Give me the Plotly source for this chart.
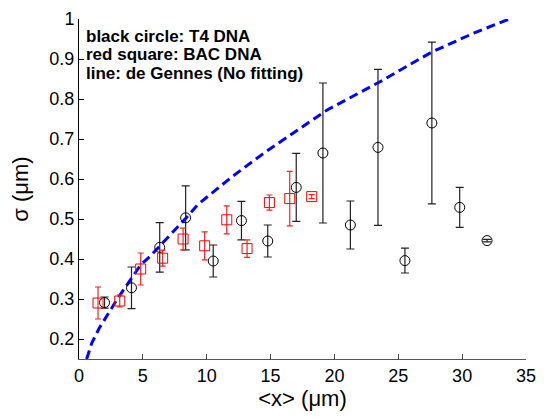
import plotly.graph_objects as go

# T4 DNA (black circles)
t4_x = [2.0, 4.11, 6.32, 8.35, 10.51, 12.72, 14.78, 17.01, 19.1, 21.25, 23.41, 25.52, 27.63, 29.81, 31.95]
t4_y = [0.291, 0.328, 0.429, 0.503, 0.395, 0.496, 0.445, 0.579, 0.665, 0.485, 0.679, 0.396, 0.740, 0.529, 0.446]
t4_err = [0.014, 0.052, 0.062, 0.080, 0.040, 0.048, 0.040, 0.085, 0.175, 0.060, 0.195, 0.031, 0.202, 0.050, 0.003]

# BAC DNA (red squares)
bac_x = [1.49, 3.19, 4.83, 6.55, 8.15, 9.84, 11.57, 13.16, 14.91, 16.5, 18.22]
bac_y = [0.290, 0.295, 0.375, 0.402, 0.450, 0.433, 0.498, 0.426, 0.541, 0.551, 0.556]
bac_err = [0.040, 0.015, 0.040, 0.020, 0.027, 0.035, 0.035, 0.022, 0.019, 0.068, 0.005]

# de Gennes curve
dg_x = [0.6, 1.0, 1.6, 3.0, 4.8, 5.6, 8.4, 9.3, 12.0, 14.7, 16.0, 19.4, 23.5, 27.6, 31.0, 33.7]
dg_y = [0.15, 0.19, 0.228, 0.30, 0.384, 0.408, 0.503, 0.536, 0.606, 0.670, 0.698, 0.772, 0.842, 0.917, 0.966, 1.0]

legend_lines = ["black circle: T4 DNA", "red square: BAC DNA", "line: de Gennes (No fitting)"]

x_ticks = [0, 5, 10, 15, 20, 25, 30, 35]
y_ticks = [0.2, 0.3, 0.4, 0.5, 0.6, 0.7, 0.8, 0.9, 1.0]
y_tick_text = ["0.2", "0.3", "0.4", "0.5", "0.6", "0.7", "0.8", "0.9", "1"]

FONT = "Liberation Sans, Arial, sans-serif"

fig = go.Figure()

fig.add_trace(go.Scatter(
    x=dg_x, y=dg_y, mode="lines",
    line=dict(color="#0000ff", width=3, dash="9px,5px"),
    hoverinfo="skip", showlegend=False))

fig.add_trace(go.Scatter(
    x=t4_x, y=t4_y, mode="markers",
    marker=dict(symbol="circle-open", size=10, color="black", line=dict(width=1)),
    error_y=dict(type="data", array=t4_err, visible=True, color="#222222", thickness=1.2, width=4),
    showlegend=False))

fig.add_trace(go.Scatter(
    x=bac_x, y=bac_y, mode="markers",
    marker=dict(symbol="square-open", size=10, color="#ff0000", line=dict(width=1)),
    error_y=dict(type="data", array=bac_err, visible=True, color="#ff2020", thickness=1.2, width=3),
    showlegend=False))

for i, t in enumerate(legend_lines):
    fig.add_annotation(
        x=0.012, y=0.949 - i * 0.054, xref="paper", yref="paper",
        xanchor="left", yanchor="middle", showarrow=False,
        text="<b>" + t + "</b>", font=dict(family=FONT, size=17, color="black"))

fig.update_layout(
    width=545, height=418,
    margin=dict(l=79, r=12, t=9, b=59),
    paper_bgcolor="white", plot_bgcolor="white",
    font=dict(family=FONT, size=18, color="black"),
    xaxis=dict(
        range=[0, 35], tickvals=x_ticks, ticks="inside", ticklen=5, tickcolor="#444",
        showline=True, linecolor="#555", linewidth=1, showgrid=False, zeroline=False,
        tickfont=dict(size=18), ticklabeloverflow="allow",
        title=dict(text="<x> (μm)", font=dict(size=22), standoff=2),
        mirror=False),
    yaxis=dict(
        range=[0.15, 1.0], tickvals=y_ticks, ticktext=y_tick_text, ticks="inside", ticklen=5,
        tickcolor="black", showline=True, linecolor="black", linewidth=1, showgrid=False,
        zeroline=False, tickfont=dict(size=18), ticklabeloverflow="allow",
        title=dict(text="σ (μm)", font=dict(size=22), standoff=14)),
)

fig.write_html("out.html")
